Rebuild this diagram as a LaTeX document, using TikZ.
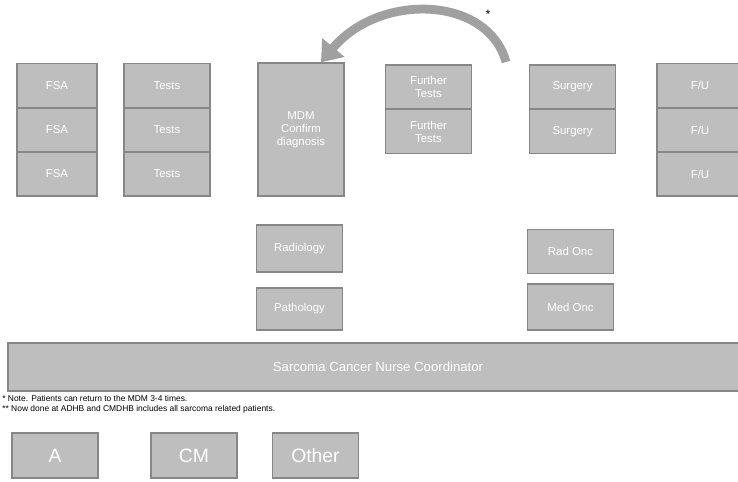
\documentclass[tikz,border=0pt]{standalone}
\usepackage{fontspec}
\setmainfont{Liberation Sans}
\usetikzlibrary{arrows.meta}
\definecolor{boxfill}{RGB}{190,190,190}
\definecolor{boxline}{RGB}{135,135,135}
\definecolor{loopgray}{RGB}{160,160,160}

\begin{document}
\begin{tikzpicture}[
    x=0.02cm, y=-0.02cm,
    stage/.style={rectangle, draw=boxline, fill=boxfill, line width=0.8pt, text=white,
      font=\fontsize{6.5}{7.5}\selectfont, align=center, inner sep=1pt,
      minimum width=1.72cm, minimum height=0.88cm},
    tall/.style={stage, minimum height=2.66cm},
    bar/.style={stage, minimum width=14.8cm, minimum height=0.96cm, font=\fontsize{7.5}{8.5}\selectfont},
    key/.style={stage, minimum height=0.9cm, font=\fontsize{11}{12}\selectfont},
    note/.style={anchor=west, font=\fontsize{4.8}{5.4}\selectfont, inner sep=0pt}
]
  \useasboundingbox (0,0) rectangle (738,481);

  % pathway columns
  \foreach \y [count=\i] in {85.5,130,174} {
    \node[stage, minimum width=1.6cm] (fsa\i) at (57,\y) {FSA};
    \node[stage] (tests\i) at (167,\y) {Tests};
    \node[stage] (fu\i) at (700,\y) {F/U};
  }
  \node[tall] (mdm) at (301,129.5) {MDM\\Confirm\\diagnosis};
  \foreach \y [count=\i] in {87,131.5} {
    \node[stage] (further\i) at (428.5,\y) {Further\\Tests};
    \node[stage] (surgery\i) at (572.5,\y) {Surgery};
  }

  % support services
  \node[stage, minimum height=0.94cm] (radiology) at (299.5,248.5) {Radiology};
  \node[stage, minimum height=0.84cm] (pathology) at (299.5,309) {Pathology};
  \node[stage] (radonc) at (570.5,251.5) {Rad Onc};
  \node[stage, minimum height=0.92cm] (medonc) at (570.5,307) {Med Onc};

  \node[bar] (nurse) at (378,367) {Sarcoma Cancer Nurse Coordinator};

  % return loop back to the MDM
  \coordinate (loop) at (506,62);
  \draw[loopgray, line width=5pt, -{Triangle[width=16pt, length=11pt]}]
    (loop) .. controls (488,-4) and (380,-8) .. ([xshift=0.4cm]mdm.north);
  \node (star) at (488,14) {\fontsize{7}{7}\selectfont *};

  % footnotes
  \node[note] (note1) at (2,398) {* Note. Patients can return to the MDM 3-4 times.};
  \node[note] (note2) at (2,409) {** Now done at ADHB and CMDHB includes all sarcoma related patients.};

  % legend
  \node[key] (keya) at (55,455.5) {A};
  \node[key] (keycm) at (194,455.5) {CM};
  \node[key] (keyother) at (315.5,455.5) {Other};
\end{tikzpicture}
\end{document}
